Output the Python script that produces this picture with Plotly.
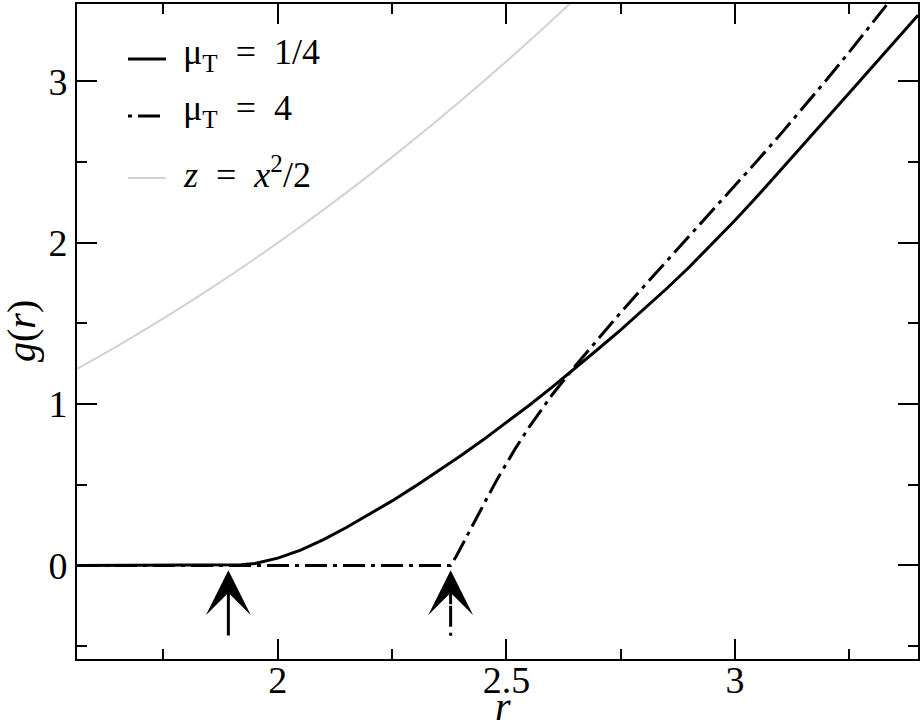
import plotly.graph_objects as go

# ---- data ----
r_quarter = [1.561, 1.65, 1.75, 1.85, 1.892, 1.92, 1.95, 2.0, 2.05, 2.1, 2.15, 2.2, 2.25, 2.3, 2.35, 2.4, 2.45,
             2.5, 2.55, 2.6, 2.65, 2.7, 2.75, 2.8, 2.85, 2.9, 2.95, 3.0, 3.05, 3.1, 3.15, 3.2, 3.25, 3.3, 3.35, 3.4]
g_quarter = [0, 0, 0, 0, 0, 0.004, 0.012, 0.045, 0.095, 0.16, 0.235, 0.315, 0.4, 0.49, 0.583, 0.68, 0.78,
             0.885, 0.993, 1.105, 1.221, 1.34, 1.46, 1.585, 1.715, 1.85, 1.993, 2.14, 2.293, 2.45, 2.608, 2.77,
             2.93, 3.09, 3.25, 3.41]

r_four = [1.561, 1.7, 1.9, 2.1, 2.3, 2.378, 2.39, 2.40, 2.42, 2.44, 2.46, 2.48, 2.50, 2.52, 2.55, 2.575, 2.60,
          2.65, 2.70, 2.75, 2.80, 2.85, 2.90, 2.95, 3.00, 3.05, 3.10, 3.15, 3.20, 3.25, 3.30, 3.35, 3.40]
g_four = [0, 0, 0, 0, 0, 0, 0.055, 0.11, 0.218, 0.325, 0.43, 0.535, 0.633, 0.727, 0.859, 0.961, 1.058,
          1.235, 1.405, 1.568, 1.728, 1.884, 2.04, 2.197, 2.355, 2.513, 2.675, 2.84, 3.01, 3.183, 3.36, 3.54, 3.72]

r_parab = [1.561, 1.65, 1.75, 1.85, 1.95, 2.05, 2.15, 2.25, 2.35, 2.45, 2.55, 2.65, 2.70]
z_parab = [1.218, 1.361, 1.531, 1.711, 1.901, 2.101, 2.311, 2.531, 2.761, 3.001, 3.251, 3.511, 3.645]

onset_r = [1.892, 2.378]          # arrow positions (μT = 1/4, μT = 4)
arrow_tail_y = -0.443
arrow_tip_y = -0.03

x_ticks = [2, 2.5, 3]
x_labels = ["2", "2.5", "3"]
y_ticks = [0, 1, 2, 3]
y_labels = ["0", "1", "2", "3"]

legend_labels = ["μ<sub>T</sub>\u2002=\u20021/4", "μ<sub>T</sub>\u2002=\u20024",
                 "<i>z</i>\u2002=\u2002<i>x</i><sup>2</sup>/2"]
x_title = "<i>r</i>"
y_title = "<i>g</i>(<i>r</i>)"

# ---- layout geometry ----
W, H = 923, 726
ML, MR, MT, MB = 77, 5, 4, 67
XR = [1.561, 3.40]
YR = [-0.58, 3.48]
FONT = "'Liberation Serif', 'Times New Roman', Times, serif"
GRAY = "#d2d2d2"


def px_x(px):
    return (px - ML) / (W - ML - MR)


def px_y(py):
    return 1 - (py - MT) / (H - MT - MB)


fig = go.Figure()
fig.add_trace(go.Scatter(x=r_parab, y=z_parab, mode="lines", name="z = x²/2",
                         line=dict(color=GRAY, width=2, shape="spline"), showlegend=False))
fig.add_trace(go.Scatter(x=r_quarter, y=g_quarter, mode="lines", name="μT = 1/4",
                         line=dict(color="black", width=3), showlegend=False))
fig.add_trace(go.Scatter(x=r_four, y=g_four, mode="lines", name="μT = 4",
                         line=dict(color="black", width=3, dash="22px,6px,4px,6px"),
                         showlegend=False))

# arrows
for i, r0 in enumerate(onset_r):
    tail = arrow_tail_y if i == 0 else -0.25
    fig.add_annotation(x=r0, y=arrow_tip_y, ax=r0, ay=tail, xref="x", yref="y",
                       axref="x", ayref="y", text="", showarrow=True,
                       arrowhead=3, arrowsize=2.5, arrowwidth=3, arrowcolor="black")
fig.add_shape(type="line", x0=onset_r[1], x1=onset_r[1], y0=-0.25, y1=arrow_tail_y,
              xref="x", yref="y", line=dict(color="black", width=3, dash="21px,6px,3px,20px"))

# manual legend
rows_py = [59, 116, 178]
dashes = ["solid", "4px,6px,22px,6px", "solid"]
colors = ["black", "black", GRAY]
widths = [3, 3, 2]
for py, lab, d, c, w in zip(rows_py, legend_labels, dashes, colors, widths):
    fig.add_shape(type="line", xref="paper", yref="paper",
                  x0=px_x(128), x1=px_x(166), y0=px_y(py), y1=px_y(py),
                  line=dict(color=c, width=w, dash=d))
    fig.add_annotation(xref="paper", yref="paper", x=px_x(181), y=px_y(py - 5),
                       xanchor="left", yanchor="middle", text=lab, showarrow=False,
                       font=dict(family=FONT, size=36, color="black"))

# axis titles
fig.add_annotation(xref="paper", yref="paper", x=px_x(503), y=px_y(706),
                   xanchor="center", yanchor="middle", text=x_title, showarrow=False,
                   font=dict(family=FONT, size=40, color="black"))
fig.add_annotation(xref="paper", yref="paper", x=px_x(21), y=px_y(331),
                   xanchor="center", yanchor="middle", text=y_title, showarrow=False, textangle=-90,
                   font=dict(family=FONT, size=40, color="black"))

axis_common = dict(showline=True, linecolor="black", linewidth=2, mirror="ticks",
                   ticks="inside", ticklen=20, tickwidth=2, tickcolor="black",
                   showgrid=False, zeroline=False,
                   tickfont=dict(family=FONT, size=38, color="black"))

fig.update_xaxes(range=XR, tickvals=x_ticks, ticktext=x_labels,
                 minor=dict(dtick=0.25, tick0=0, ticks="inside", ticklen=10, tickwidth=2, tickcolor="black"),
                 ticklabelstandoff=-14, **axis_common)
fig.update_yaxes(range=YR, tickvals=y_ticks, ticktext=y_labels,
                 minor=dict(dtick=0.5, tick0=0, ticks="inside", ticklen=10, tickwidth=2, tickcolor="black"),
                 ticklabelstandoff=0, **axis_common)

fig.update_layout(width=W, height=H, margin=dict(l=ML, r=MR, t=MT, b=MB, autoexpand=False),
                  paper_bgcolor="white", plot_bgcolor="white",
                  font=dict(family=FONT, color="black"))

fig.write_html("out.html", config={"displayModeBar": False},
               post_script="document.body.style.margin='0';document.body.style.padding='0';")
